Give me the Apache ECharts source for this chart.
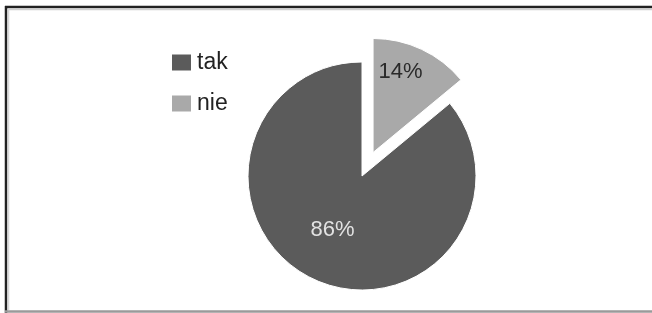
<!DOCTYPE html>
<html>
<head>
    <meta charset="utf-8">
    <title>ECharts</title>
    <script src="https://cdn.jsdelivr.net/npm/echarts@6/dist/echarts.min.js"></script>
    <style>
        body { margin: 0; background: #fff; }
    </style>
</head>
<body>
<div id="main" style="width: 652px;height:313px;"></div>
<script type="text/javascript">
    // dane z wykresu
    var categories = ['tak', 'nie'];
    var values = [86, 14];
    var colors = ['#5b5b5b', '#a9a9a9'];
    var labelColors = ['#e2e2e2', '#2a2a2a'];

    var myChart = echarts.init(document.getElementById('main'), null, {renderer: 'canvas'});

    // "nie" idzie pierwsze, zeby zaczynalo sie od godziny 12
    var pieData = [];
    for (var i = categories.length - 1; i >= 0; i--) {
        pieData.push({
            name: categories[i],
            value: values[i],
            selected: categories[i] === 'nie',
            itemStyle: {color: colors[i]},
            label: {color: labelColors[i]}
        });
    }

    var option = {
        animation: false,
        legend: {
            data: categories,
            orient: 'vertical',
            left: 165,
            top: 46,
            icon: 'rect',
            itemWidth: 21,
            itemHeight: 18,
            itemGap: 18,
            selectedMode: false,
            textStyle: {
                fontFamily: 'Liberation Sans, Arial, sans-serif',
                fontSize: 23,
                color: '#222'
            }
        },
        graphic: [
            {type: 'line', shape: {x1: 5, y1: 7, x2: 652, y2: 7}, style: {stroke: '#222', lineWidth: 2.5}},
            {type: 'line', shape: {x1: 6, y1: 6, x2: 6, y2: 313}, style: {stroke: '#222', lineWidth: 2.5}},
            {type: 'line', shape: {x1: 8, y1: 9.5, x2: 652, y2: 9.5}, style: {stroke: '#d0d0d0', lineWidth: 1.5}},
            {type: 'line', shape: {x1: 8.5, y1: 9, x2: 8.5, y2: 310}, style: {stroke: '#d8d8d8', lineWidth: 1.5}},
            {type: 'line', shape: {x1: 5, y1: 311.5, x2: 652, y2: 311.5}, style: {stroke: '#9a9a9a', lineWidth: 2.5}}
        ],
        series: [{
            type: 'pie',
            center: [362, 176],
            radius: 114,
            startAngle: 90,
            clockwise: true,
            selectedMode: 'single',
            selectedOffset: 26,
            avoidLabelOverlap: false,
            itemStyle: {
                borderColor: '#fff',
                borderWidth: 1
            },
            label: {
                show: true,
                position: 'inside',
                formatter: '{d}%',
                fontFamily: 'Liberation Sans, Arial, sans-serif',
                fontSize: 22
            },
            labelLayout: function (params) {
                if (params.dataIndex === 0) {
                    return {dx: 2, dy: -26};
                }
                return {dx: -4, dy: 0};
            },
            emphasis: {disabled: true},
            data: pieData
        }]
    };

    myChart.setOption(option);
</script>
</body>
</html>
